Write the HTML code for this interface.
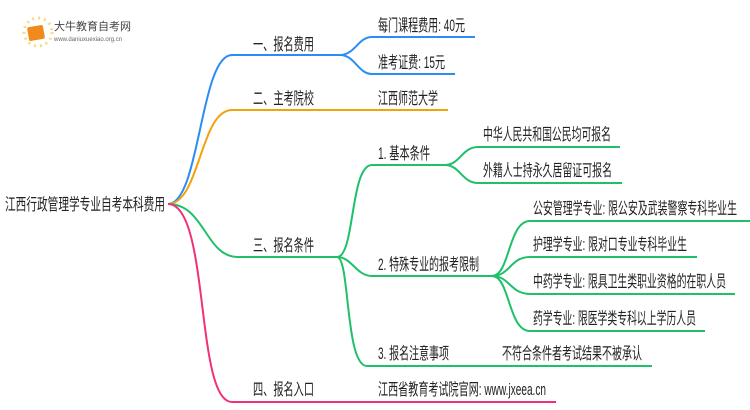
<!DOCTYPE html>
<html><head><meta charset="utf-8"><style>
html,body{margin:0;padding:0;background:#fff;width:750px;height:410px;overflow:hidden}
svg text{font-family:"Liberation Sans","Noto Sans CJK SC",sans-serif;font-size:16.5px;fill:#222}
</style></head><body>
<svg width="750" height="410" viewBox="0 0 750 410" xmlns="http://www.w3.org/2000/svg">
<g fill="none" stroke-width="2">
<path d="M168 204 C200 204,200 55,232 55 L340 55" stroke="#2a8cf5"/>
<path d="M340 55 C355 55,358 37,372 37 L475 37" stroke="#2a8cf5"/>
<path d="M340 55 C355 55,358 74,372 74 L455 74" stroke="#2a8cf5"/>
<path d="M168 204 C200 204,200 110,232 110 L448 110" stroke="#f2a20c"/>
<path d="M168 204 C205 204,205 257,238 257 L337 257" stroke="#1fc06a"/>
<path d="M337 257 C355 257,350 165,372 165 L445 165" stroke="#1fc06a"/>
<path d="M445 165 C460 165,462 147,478 147 L620 147" stroke="#1fc06a"/>
<path d="M445 165 C460 165,462 183,478 183 L622 183" stroke="#1fc06a"/>
<path d="M337 257 C352 257,356 276,372 276 L492 276" stroke="#1fc06a"/>
<path d="M492 276 C510 276,508 221,530 221 L750 221" stroke="#1fc06a"/>
<path d="M492 276 C510 276,510 257,530 257 L697 257" stroke="#1fc06a"/>
<path d="M492 276 C510 276,510 294,530 294 L735 294" stroke="#1fc06a"/>
<path d="M492 276 C510 276,508 331,530 331 L705 331" stroke="#1fc06a"/>
<path d="M337 257 C350 257,345 366,367 366 L652 366" stroke="#1fc06a"/>
<path d="M168 204 C210 204,195 402,232 402 L556 402" stroke="#f2307a"/>
</g>
<g>
<circle cx="38" cy="32" r="14" fill="none" stroke="#fbd88a" stroke-width="3" stroke-dasharray="2 4"/>
<rect x="28" y="26" width="16" height="14" rx="2" fill="#f08a1c" transform="rotate(-10 36 33)"/>
<text x="54" y="30" style="font-size:11px;fill:#444">大牛教育自考网</text>
<text x="54" y="41" style="font-size:6px;fill:#666">www.daniuxuexiao.org.cn</text>
</g>
<g>
<text x="5" y="210" textLength="160" lengthAdjust="spacingAndGlyphs">江西行政管理学专业自考本科费用</text>
<text x="253" y="50" textLength="61" lengthAdjust="spacingAndGlyphs">一、报名费用</text>
<text x="253" y="104" textLength="61" lengthAdjust="spacingAndGlyphs">二、主考院校</text>
<text x="253" y="251" textLength="61" lengthAdjust="spacingAndGlyphs">三、报名条件</text>
<text x="253" y="395" textLength="61" lengthAdjust="spacingAndGlyphs">四、报名入口</text>
<text x="378" y="31" textLength="87" lengthAdjust="spacingAndGlyphs">每门课程费用: 40元</text>
<text x="378" y="68" textLength="67" lengthAdjust="spacingAndGlyphs">准考证费: 15元</text>
<text x="378" y="104" textLength="60" lengthAdjust="spacingAndGlyphs">江西师范大学</text>
<text x="378" y="159" textLength="52" lengthAdjust="spacingAndGlyphs">1. 基本条件</text>
<text x="483" y="140" textLength="128" lengthAdjust="spacingAndGlyphs">中华人民共和国公民均可报名</text>
<text x="483" y="176" textLength="129" lengthAdjust="spacingAndGlyphs">外籍人士持永久居留证可报名</text>
<text x="378" y="270" textLength="101" lengthAdjust="spacingAndGlyphs">2. 特殊专业的报考限制</text>
<text x="533" y="214" textLength="204" lengthAdjust="spacingAndGlyphs">公安管理学专业: 限公安及武装警察专科毕业生</text>
<text x="533" y="250" textLength="154" lengthAdjust="spacingAndGlyphs">护理学专业: 限对口专业专科毕业生</text>
<text x="533" y="287" textLength="193" lengthAdjust="spacingAndGlyphs">中药学专业: 限具卫生类职业资格的在职人员</text>
<text x="533" y="324" textLength="163" lengthAdjust="spacingAndGlyphs">药学专业: 限医学类专科以上学历人员</text>
<text x="378" y="359" textLength="71" lengthAdjust="spacingAndGlyphs">3. 报名注意事项</text>
<text x="502" y="359" textLength="140" lengthAdjust="spacingAndGlyphs">不符合条件者考试结果不被承认</text>
<text x="378" y="395" textLength="168" lengthAdjust="spacingAndGlyphs">江西省教育考试院官网: www.jxeea.cn</text>
</g>
</svg>
</body></html>
